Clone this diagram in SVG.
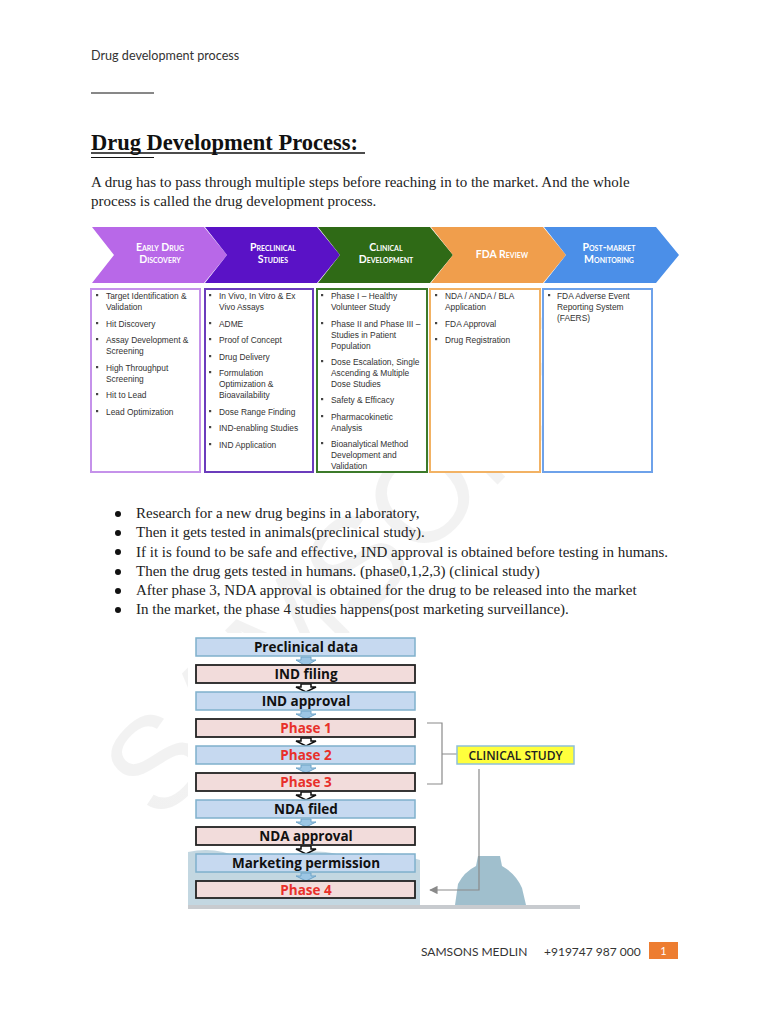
<svg xmlns="http://www.w3.org/2000/svg" width="768" height="1024" viewBox="0 0 768 1024">
<style>
.hdr{font-family:Lato,"Liberation Sans",sans-serif;font-size:12px;fill:#333}
.serif{font-family:"Liberation Serif",serif;font-size:15px;fill:#222}
.title{font-family:"Liberation Serif",serif;font-size:22.5px;font-weight:bold;fill:#111}
.chev{font-family:Lato,"Liberation Sans",sans-serif;font-size:10.5px;font-weight:bold;font-variant:small-caps;fill:#fff;text-anchor:middle}
.bx{fill:#fff;stroke-width:2}
.bt{font-family:"Liberation Sans",Arial,sans-serif;font-size:8.4px;fill:#333}
.bl{fill:#444}
.fb{fill:#c6d9f0;stroke:#7fb0cc;stroke-width:1.5}
.fp{fill:#f2dcdb;stroke:#222;stroke-width:1.8}
.ft{font-family:"Open Sans","Liberation Sans",sans-serif;font-size:13.5px;font-weight:bold;fill:#111;text-anchor:middle}
.red{fill:#e8302a}
.ab{fill:#9cc6e4;stroke:#6fa4c8;stroke-width:1}
.ak{fill:#fff;stroke:#111;stroke-width:1.5}
.gl{fill:none;stroke:#8a8a8a;stroke-width:1.2}
</style>
<defs>
<marker id="ah" viewBox="0 0 10 10" refX="9" refY="5" markerWidth="7" markerHeight="7" orient="auto-start-reverse">
<path d="M0,0 L10,5 L0,10 Z" fill="#8a8a8a"/>
</marker>
<linearGradient id="wm" gradientUnits="userSpaceOnUse" x1="120" y1="800" x2="480" y2="470">
<stop offset="0" stop-color="#d4d4d4"/>
<stop offset="0.3" stop-color="#e2e2e2"/>
<stop offset="1" stop-color="#f2f2f2"/>
</linearGradient>
</defs>
<rect width="768" height="1024" fill="#fff"/>

<!-- watermark -->
<text transform="translate(158,824) rotate(-45)" font-family="Liberation Sans,Arial,sans-serif" font-size="130" fill="url(#wm)">SAMSONS</text>

<!-- header -->
<text class="hdr" x="91" y="60" style="font-size:12.6px">Drug development process</text>
<line x1="91" y1="93" x2="154" y2="93" stroke="#111" stroke-width="1"/>
<text class="title" x="91" y="150">Drug Development Process: </text>
<line x1="91" y1="153" x2="365" y2="153" stroke="#111" stroke-width="1.3"/>
<line x1="91" y1="157.5" x2="154" y2="157.5" stroke="#111" stroke-width="1"/>
<text class="serif" x="91" y="187">A drug has to pass through multiple steps before reaching in to the market. And the whole</text>
<text class="serif" x="91" y="206">process is called the drug development process.</text>

<!-- chevrons -->
<g id="chev1">
<polygon points="92,227 204,227 227,255 204,283 92,283 114,255" fill="#b868e8"/>
<text class="chev" x="160" y="251">Early Drug</text>
<text class="chev" x="160" y="263">Discovery</text>
</g>
<g id="chev2">
<polygon points="205,227 317,227 340,255 317,283 205,283 227,255" fill="#5a12c6"/>
<text class="chev" x="273" y="251">Preclinical</text>
<text class="chev" x="273" y="263">Studies</text>
</g>
<g id="chev3">
<polygon points="318,227 430,227 453,255 430,283 318,283 340,255" fill="#2f6a16"/>
<text class="chev" x="386" y="251">Clinical</text>
<text class="chev" x="386" y="263">Development</text>
</g>
<g id="chev4">
<polygon points="431,227 543,227 566,255 543,283 431,283 453,255" fill="#f09e4c"/>
<text class="chev" x="502" y="258">FDA Review</text>
</g>
<g id="chev5">
<polygon points="544,227 656,227 679,255 656,283 544,283 566,255" fill="#4b8fe8"/>
<text class="chev" x="609" y="251">Post-market</text>
<text class="chev" x="609" y="263">Monitoring</text>
</g>

<!-- boxes -->
<g id="box1">
<rect class="bx" x="91" y="289" width="109" height="183" stroke="#c592ea"/>
<g class="bl"><rect x="96" y="294" width="2.2" height="2.2"/><rect x="96" y="322" width="2.2" height="2.2"/><rect x="96" y="338" width="2.2" height="2.2"/><rect x="96" y="366" width="2.2" height="2.2"/><rect x="96" y="393" width="2.2" height="2.2"/><rect x="96" y="410" width="2.2" height="2.2"/></g>
<text class="bt" x="106" y="299">Target Identification &amp;</text>
<text class="bt" x="106" y="310">Validation</text>
<text class="bt" x="106" y="327">Hit Discovery</text>
<text class="bt" x="106" y="343">Assay Development &amp;</text>
<text class="bt" x="106" y="354">Screening</text>
<text class="bt" x="106" y="371">High Throughput</text>
<text class="bt" x="106" y="382">Screening</text>
<text class="bt" x="106" y="398">Hit to Lead</text>
<text class="bt" x="106" y="415">Lead Optimization</text>
</g>
<g id="box2">
<rect class="bx" x="205" y="289" width="108" height="183" stroke="#6b3cbc"/>
<g class="bl"><rect x="209" y="294" width="2.2" height="2.2"/><rect x="209" y="322" width="2.2" height="2.2"/><rect x="209" y="338" width="2.2" height="2.2"/><rect x="209" y="355" width="2.2" height="2.2"/><rect x="209" y="371" width="2.2" height="2.2"/><rect x="209" y="410" width="2.2" height="2.2"/><rect x="209" y="426" width="2.2" height="2.2"/><rect x="209" y="443" width="2.2" height="2.2"/></g>
<text class="bt" x="219" y="299">In Vivo, In Vitro &amp; Ex</text>
<text class="bt" x="219" y="310">Vivo Assays</text>
<text class="bt" x="219" y="327">ADME</text>
<text class="bt" x="219" y="343">Proof of Concept</text>
<text class="bt" x="219" y="360">Drug Delivery</text>
<text class="bt" x="219" y="376">Formulation</text>
<text class="bt" x="219" y="387">Optimization &amp;</text>
<text class="bt" x="219" y="398">Bioavailability</text>
<text class="bt" x="219" y="415">Dose Range Finding</text>
<text class="bt" x="219" y="431">IND-enabling Studies</text>
<text class="bt" x="219" y="448">IND Application</text>
</g>
<g id="box3">
<rect class="bx" x="317" y="289" width="110" height="183" stroke="#3c7a2a"/>
<g class="bl"><rect x="321" y="294" width="2.2" height="2.2"/><rect x="321" y="322" width="2.2" height="2.2"/><rect x="321" y="360" width="2.2" height="2.2"/><rect x="321" y="398" width="2.2" height="2.2"/><rect x="321" y="415" width="2.2" height="2.2"/><rect x="321" y="442" width="2.2" height="2.2"/></g>
<text class="bt" x="331" y="299">Phase I – Healthy</text>
<text class="bt" x="331" y="310">Volunteer Study</text>
<text class="bt" x="331" y="327">Phase II and Phase III –</text>
<text class="bt" x="331" y="338">Studies in Patient</text>
<text class="bt" x="331" y="349">Population</text>
<text class="bt" x="331" y="365">Dose Escalation, Single</text>
<text class="bt" x="331" y="376">Ascending &amp; Multiple</text>
<text class="bt" x="331" y="387">Dose Studies</text>
<text class="bt" x="331" y="403">Safety &amp; Efficacy</text>
<text class="bt" x="331" y="420">Pharmacokinetic</text>
<text class="bt" x="331" y="431">Analysis</text>
<text class="bt" x="331" y="447">Bioanalytical Method</text>
<text class="bt" x="331" y="458">Development and</text>
<text class="bt" x="331" y="469">Validation</text>
</g>
<g id="box4">
<rect class="bx" x="430" y="289" width="110" height="183" stroke="#f2b264"/>
<g class="bl"><rect x="435" y="294" width="2.2" height="2.2"/><rect x="435" y="322" width="2.2" height="2.2"/><rect x="435" y="338" width="2.2" height="2.2"/></g>
<text class="bt" x="445" y="299">NDA / ANDA / BLA</text>
<text class="bt" x="445" y="310">Application</text>
<text class="bt" x="445" y="327">FDA Approval</text>
<text class="bt" x="445" y="343">Drug Registration</text>
</g>
<g id="box5">
<rect class="bx" x="543" y="289" width="109" height="183" stroke="#6ea2ea"/>
<g class="bl"><rect x="548" y="294" width="2.2" height="2.2"/></g>
<text class="bt" x="557" y="299">FDA Adverse Event</text>
<text class="bt" x="557" y="310">Reporting System</text>
<text class="bt" x="557" y="321">(FAERS)</text>
</g>

<!-- bullet list -->
<g fill="#111"><circle cx="118" cy="514" r="3"/><circle cx="118" cy="533" r="3"/><circle cx="118" cy="552" r="3"/><circle cx="118" cy="572" r="3"/><circle cx="118" cy="591" r="3"/><circle cx="118" cy="610" r="3"/></g>
<text class="serif" x="136" y="518">Research for a new drug begins in a laboratory,</text>
<text class="serif" x="136" y="537">Then it gets tested in animals(preclinical study).</text>
<text class="serif" x="136" y="557">If it is found to be safe and effective, IND approval is obtained before testing in humans.</text>
<text class="serif" x="136" y="576">Then the drug gets tested in humans. (phase0,1,2,3) (clinical study)</text>
<text class="serif" x="136" y="595">After phase 3, NDA approval is obtained for the drug to be released into the market</text>
<text class="serif" x="136" y="614">In the market, the phase 4 studies happens(post marketing surveillance).</text>

<!-- flowchart background -->
<rect x="188" y="633" width="392" height="275" fill="#fff"/>
<path d="M188,905 L188,852 Q215,846 240,858 Q262,850 290,856 Q320,846 350,858 Q385,848 420,860 L420,905 Z" fill="#a9c6d4" opacity="0.7"/>
<path d="M455,905 L458,884 Q464,872 476,866 L478,856 L500,856 L502,866 Q516,874 522,888 L526,905 Z" fill="#8fb4c4" opacity="0.85"/>
<rect x="188" y="905" width="392" height="4" fill="#c8cbcf"/>

<!-- connectors -->
<g id="connectors">
<path class="ab" d="M301,657 L311,657 L311,660 L316,660 L306,666 L296,660 L301,660 Z"/>
<path class="ak" d="M301,684 L311,684 L311,687 L316,687 L306,692 L296,687 L301,687 Z"/>
<path class="ab" d="M301,711 L311,711 L311,714 L316,714 L306,719 L296,714 L301,714 Z"/>
<path class="ak" d="M301,738 L311,738 L311,741 L316,741 L306,746 L296,741 L301,741 Z"/>
<path class="ab" d="M301,765 L311,765 L311,768 L316,768 L306,773 L296,768 L301,768 Z"/>
<path class="ak" d="M301,792 L311,792 L311,795 L316,795 L306,800 L296,795 L301,795 Z"/>
<path class="ab" d="M301,819 L311,819 L311,822 L316,822 L306,827 L296,822 L301,822 Z"/>
<path class="ak" d="M301,846 L311,846 L311,849 L316,849 L306,854 L296,849 L301,849 Z"/>
<path class="ab" d="M301,873 L311,873 L311,876 L316,876 L306,881 L296,876 L301,876 Z"/>
<path class="gl" d="M427,723 L442,723 L442,784 L427,784 M442,754 L457,754"/>
<path class="gl" d="M479,769 L479,890 L430,890" marker-end="url(#ah)"/>
</g>

<!-- flow nodes -->
<g id="n-preclinical"><rect class="fb" x="196" y="638" width="219" height="18"/><text class="ft" x="306" y="652">Preclinical data</text></g>
<g id="n-indfiling"><rect class="fp" x="196" y="665" width="219" height="18"/><text class="ft" x="306" y="679">IND filing</text></g>
<g id="n-indapproval"><rect class="fb" x="196" y="692" width="219" height="18"/><text class="ft" x="306" y="706">IND approval</text></g>
<g id="n-phase1"><rect class="fp" x="196" y="719" width="219" height="18"/><text class="ft red" x="306" y="733">Phase 1</text></g>
<g id="n-phase2"><rect class="fb" x="196" y="746" width="219" height="18"/><text class="ft red" x="306" y="760">Phase 2</text></g>
<g id="n-phase3"><rect class="fp" x="196" y="773" width="219" height="18"/><text class="ft red" x="306" y="787">Phase 3</text></g>
<g id="n-ndafiled"><rect class="fb" x="196" y="800" width="219" height="18"/><text class="ft" x="306" y="814">NDA filed</text></g>
<g id="n-ndaapproval"><rect class="fp" x="196" y="827" width="219" height="18"/><text class="ft" x="306" y="841">NDA approval</text></g>
<g id="n-marketing"><rect class="fb" x="196" y="854" width="219" height="18"/><text class="ft" x="306" y="868">Marketing permission</text></g>
<g id="n-phase4"><rect class="fp" x="196" y="881" width="219" height="17"/><text class="ft red" x="306" y="894.5">Phase 4</text></g>
<g id="n-clinical"><rect x="457" y="746" width="117" height="18" fill="#ffff3c" stroke="#8fc0d8" stroke-width="1.5"/><text x="515.5" y="759.5" font-family="Open Sans,Liberation Sans,sans-serif" font-size="12px" font-weight="600" fill="#222" text-anchor="middle">CLINICAL STUDY</text></g>

<!-- footer -->
<text class="hdr" x="421" y="956">SAMSONS MEDLIN</text>
<text class="hdr" x="544" y="956">+919747 987 000</text>
<rect x="649" y="942" width="29" height="17" fill="#ed7d31"/>
<text x="663.5" y="955" font-family="Lato,Liberation Sans,sans-serif" font-size="11px" fill="#fff" text-anchor="middle">1</text>
</svg>
